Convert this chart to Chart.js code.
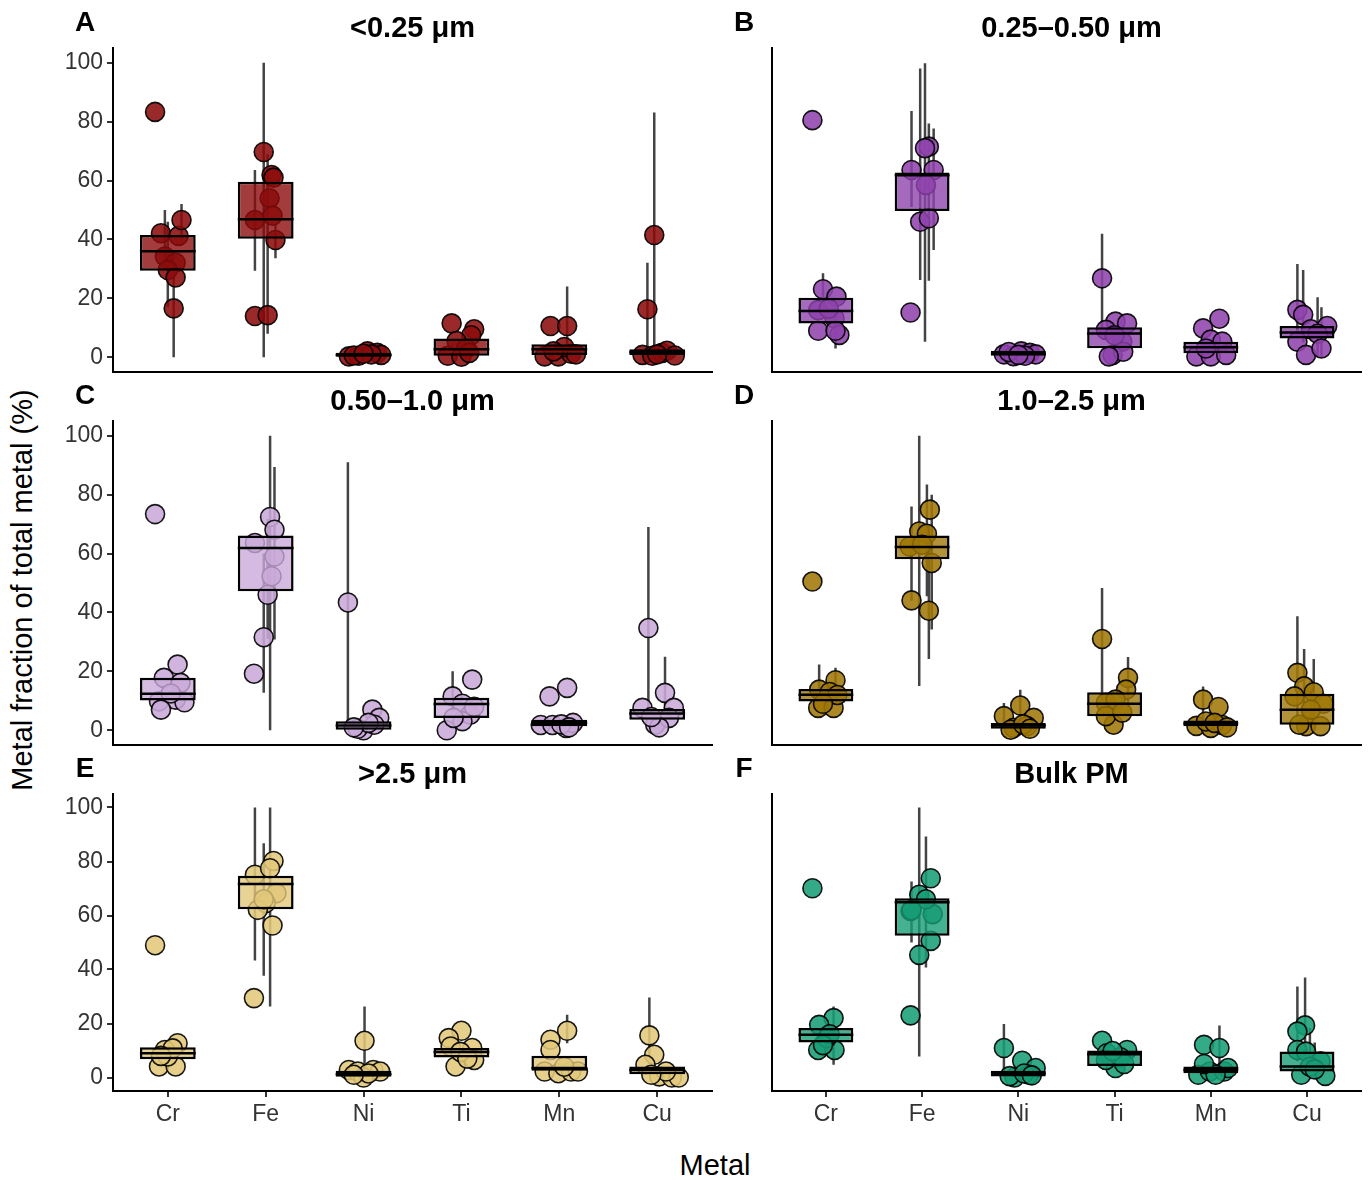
<!DOCTYPE html>
<html>
<head>
<meta charset="utf-8">
<script src="https://cdn.jsdelivr.net/npm/chart.js@4.4.0/dist/chart.umd.min.js"></script>
<style>
  body { margin: 0; background: #fff; width: 1372px; height: 1180px; position: relative; overflow: hidden;
         font-family: "Liberation Sans", Arial, Helvetica, sans-serif; }
  canvas { position: absolute; }
  .txt { position: absolute; transform: translate(-50%, -50%); white-space: nowrap; color: #000; }
  .letter { font-weight: bold; font-size: 28px; }
  .title { font-weight: bold; font-size: 29px; }
  .axis-title { font-size: 29px; }
</style>
</head>
<body>
<div class="txt axis-title" style="left:22px;top:590px;transform:translate(-50%,-50%) rotate(-90deg)">Metal fraction of total metal (%)</div>
<div class="txt axis-title" style="left:715px;top:1165px">Metal</div>
<script>
const metals = ["Cr", "Fe", "Ni", "Ti", "Mn", "Cu"];
const yTicks = [0, 20, 40, 60, 80, 100];
const letters = ["A", "B", "C", "D", "E", "F"];
const titles = ["<0.25 μm", "0.25–0.50 μm", "0.50–1.0 μm", "1.0–2.5 μm", ">2.5 μm", "Bulk PM"];

// box per metal: [q1, median, q3]
// points: [metal index, jitter, value, range low, range high]
const boxA = [[29.4, 36.0, 41.5], [40.2, 46.9, 59.6], [0.2, 0.8, 1.5], [0.5, 2.7, 6.4], [0.8, 2.7, 4.4], [0.8, 1.7, 2.7]];
const ptsA = [
  [0, -0.13, 83.3], [0, -0.07, 42.1], [0, 0.11, 41.2], [0, 0.14, 46.6, 40, 52], [0, -0.03, 34.2, 30, 50],
  [0, 0.08, 32.1], [0, 0.0, 29.6, 17, 46], [0, 0.08, 27.1], [0, 0.06, 16.6, 0, 28],
  [1, -0.02, 69.7, 0, 100], [1, 0.06, 61.9], [1, 0.08, 61.0], [1, 0.04, 54.0], [1, -0.11, 46.6, 29.4, 63.6],
  [1, 0.07, 48.1], [1, 0.10, 39.8, 33.6, 45], [1, -0.11, 14.0], [1, 0.02, 14.3, 8, 69],
  [2, -0.15, 0.3], [2, -0.05, 0.5], [2, 0.04, 2.0], [2, 0.14, 1.5], [2, 0.18, 0.8], [2, 0.08, 1.0], [2, -0.1, 0.6], [2, 0.0, 1.2],
  [3, -0.10, 11.5], [3, 0.13, 9.5], [3, 0.10, 7.5], [3, -0.05, 5.5], [3, 0.05, 3.0], [3, -0.14, 0.5], [3, 0.0, 0.2], [3, 0.08, 1.5],
  [4, -0.09, 10.6], [4, 0.08, 10.6, 3, 24], [4, -0.15, 0.3], [4, -0.01, 0.3], [4, 0.12, 1.2], [4, 0.05, 3.5], [4, -0.06, 2.0], [4, 0.17, 1.0],
  [5, -0.03, 41.5, 2.5, 83.1], [5, -0.10, 16.3, 2.5, 32.1], [5, -0.15, 0.8], [5, -0.05, 0.5], [5, 0.05, 1.5], [5, 0.10, 2.2], [5, 0.18, 0.6], [5, 0.0, 1.0]
];

const boxB = [[11.5, 15.7, 20.2], [49.7, 61.8, 62.7], [0.5, 1.2, 2.2], [3.1, 8.1, 10.2], [1.4, 3.4, 5.3], [6.4, 8.4, 10.6]];
const ptsB = [
  [0, -0.14, 80.5], [0, -0.03, 23.1, 15, 28.5], [0, 0.11, 20.6], [0, -0.08, 16.0], [0, 0.09, 13.2],
  [0, -0.08, 9.0], [0, 0.14, 7.6], [0, 0.03, 16.5], [0, 0.10, 9.0, 3, 14],
  [1, 0.07, 71.5, 26, 79.4], [1, 0.03, 71.0, 5.3, 99.8], [1, -0.11, 63.6, 51, 83.6], [1, 0.12, 63.6, 36.4, 77.7],
  [1, 0.04, 58.5], [1, -0.02, 46.0, 26.2, 98], [1, 0.07, 47.2], [1, -0.12, 15.2],
  [2, -0.15, 1.0], [2, -0.05, 0.4], [2, 0.03, 2.0], [2, 0.12, 1.5], [2, 0.18, 1.0], [2, 0.07, 0.5], [2, -0.1, 1.8], [2, 0.0, 0.8],
  [3, -0.13, 26.8, 10, 41.9], [3, 0.01, 12.1], [3, 0.13, 11.5], [3, -0.09, 9.3], [3, 0.08, 5.3], [3, -0.02, 0.8], [3, 0.09, 1.9], [3, -0.06, 0.3], [3, 0.0, 7.5],
  [4, 0.09, 13.1], [4, -0.08, 9.8], [4, 0.0, 6.0], [4, 0.12, 5.3], [4, -0.15, 0.3], [4, 0.0, 0.3], [4, 0.16, 0.8], [4, -0.05, 3.0],
  [5, -0.10, 16.1, 9, 31.7], [5, -0.04, 14.4, 5, 29.6], [5, 0.04, 9.5], [5, 0.21, 10.6], [5, -0.10, 5.3], [5, -0.01, 0.8], [5, 0.11, 8.0, 0.2, 20.4], [5, 0.15, 3.0, 0, 17]
];

const boxC = [[10.1, 12.4, 17.8], [47.2, 61.9, 66.1], [0.2, 1.6, 3.1], [4.2, 8.9, 11.0], [1.4, 2.5, 3.6], [3.6, 5.7, 7.2]];
const ptsC = [
  [0, -0.13, 73.4], [0, 0.10, 22.3], [0, -0.04, 17.8], [0, 0.13, 16.1], [0, -0.09, 9.8], [0, 0.08, 10.4], [0, 0.17, 9.5], [0, -0.07, 7.0], [0, 0.03, 12.5],
  [1, 0.045, 72.4, 0, 100], [1, 0.09, 68.1, 30.8, 89.4], [1, -0.11, 63.6], [1, 0.09, 59.0], [1, 0.06, 52.3],
  [1, 0.02, 46.0, 31, 71.7], [1, -0.02, 31.6, 12.7, 60], [1, -0.12, 19.2],
  [2, -0.16, 43.4, 3, 91], [2, 0.09, 7.0], [2, 0.16, 4.2], [2, 0.0, 0.0], [2, -0.06, 0.5], [2, 0.11, 1.9], [2, 0.05, 2.5], [2, -0.1, 1.0],
  [3, 0.11, 17.2], [3, -0.09, 11.5, 6, 20], [3, 0.01, 9.0], [3, 0.09, 5.3], [3, -0.15, 0.0], [3, 0.01, 3.1], [3, -0.08, 4.2], [3, 0.13, 8.0],
  [4, -0.10, 11.5], [4, 0.08, 14.4], [4, -0.19, 1.8], [4, -0.07, 1.8], [4, 0.07, 0.8], [4, 0.14, 2.5], [4, 0.02, 2.0], [4, 0.1, 1.0],
  [5, -0.09, 34.7, 5, 69], [5, 0.08, 12.7, 5, 25], [5, -0.15, 7.6], [5, -0.02, 1.9], [5, 0.17, 7.6], [5, 0.12, 4.2], [5, 0.02, 1.0], [5, -0.06, 4.5]
];

const boxD = [[9.8, 12.1, 14.0], [58.1, 62.2, 66.1], [0.5, 1.6, 2.5], [4.8, 9.0, 12.9], [1.4, 2.3, 3.3], [1.9, 7.0, 12.4]];
const ptsD = [
  [0, -0.14, 50.5], [0, -0.07, 13.8, 10, 22.3], [0, 0.10, 17.0, 12, 21.2], [0, -0.08, 7.6], [0, 0.08, 7.6], [0, 0.04, 13.0], [0, 0.12, 12.0], [0, -0.03, 9.0],
  [1, 0.08, 74.9], [1, -0.03, 67.5, 15, 100], [1, 0.05, 66.7, 45.5, 83.4], [1, -0.13, 62.4], [1, 0.10, 56.8, 34.2, 80],
  [1, -0.11, 44.1, 44, 76], [1, 0.07, 40.6, 24.2, 70], [1, 0.0, 63.0],
  [2, 0.02, 8.4, 3, 13.8], [2, -0.15, 4.8, 1, 9.3], [2, 0.16, 4.2], [2, -0.05, 0.8], [2, 0.09, 1.4], [2, -0.08, 0.2], [2, 0.05, 2.0], [2, 0.12, 0.5],
  [3, -0.13, 31.0, 10, 48.3], [3, 0.14, 17.8, 8, 24.9], [3, 0.12, 13.8], [3, -0.09, 9.3], [3, 0.01, 10.4], [3, -0.01, 1.9], [3, -0.09, 4.8], [3, 0.08, 6.0],
  [4, -0.08, 10.4, 4, 14.9], [4, 0.08, 7.9], [4, -0.15, 1.5], [4, 0.0, 0.8], [4, 0.12, 1.8], [4, -0.05, 3.0], [4, 0.04, 2.5], [4, 0.17, 1.0],
  [5, -0.10, 19.5, 5, 38.7], [5, -0.03, 14.9, 3, 27.6], [5, 0.07, 12.9, 4, 24.2], [5, -0.13, 11.5], [5, 0.17, 9.0],
  [5, -0.01, 1.4], [5, -0.08, 1.9], [5, 0.14, 1.4], [5, 0.04, 7.0, 1, 17]
];

const boxE = [[6.8, 9.0, 11.2], [62.3, 71.7, 74.7], [0.3, 1.2, 2.5], [7.4, 9.4, 10.9], [2.5, 3.5, 8.1], [1.2, 2.8, 4.1]];
const ptsE = [
  [0, -0.13, 49.0], [0, 0.10, 12.7], [0, -0.03, 10.2], [0, -0.09, 4.1], [0, 0.08, 4.1], [0, 0.0, 7.8], [0, 0.05, 10.8], [0, -0.07, 8.0],
  [1, 0.08, 80.2], [1, -0.11, 75.1, 43.3, 100], [1, 0.045, 77.5, 26.3, 100], [1, 0.11, 68.3], [1, 0.0, 64.6],
  [1, -0.08, 62.1], [1, 0.07, 56.3], [1, -0.12, 29.4], [1, -0.02, 66.0, 37.7, 86.8],
  [2, 0.01, 13.6, 3, 26.3], [2, -0.15, 2.8], [2, -0.06, 2.2], [2, 0.1, 2.8], [2, 0.17, 2.2], [2, 0.0, 0.0], [2, 0.05, 1.5], [2, -0.1, 1.0],
  [3, 0.0, 17.3], [3, -0.13, 14.6], [3, -0.11, 11.5], [3, 0.11, 10.9], [3, -0.06, 4.1], [3, 0.13, 6.5], [3, -0.01, 9.5], [3, 0.06, 7.0],
  [4, 0.08, 17.3, 12.7, 23.2], [4, -0.09, 14.0], [4, -0.09, 10.2], [4, -0.15, 2.2], [4, -0.01, 1.6], [4, 0.12, 2.2], [4, 0.19, 2.2], [4, 0.05, 4.0],
  [5, -0.08, 15.6, 5, 29.6], [5, -0.03, 8.4], [5, -0.12, 4.7], [5, 0.02, 0.4], [5, 0.15, 0.0], [5, 0.22, 0.0], [5, 0.09, 2.2], [5, -0.06, 1.0]
];

const boxF = [[13.0, 15.8, 18.3], [52.5, 64.9, 66.4], [0.4, 1.5, 2.5], [4.3, 8.6, 10.0], [1.6, 2.8, 4.1], [2.2, 4.1, 9.6]];
const ptsF = [
  [0, -0.14, 70.1], [0, 0.08, 22.0, 4.7, 26.3], [0, -0.07, 19.5], [0, -0.08, 10.2], [0, 0.09, 10.2], [0, 0.01, 14.6], [0, 0.04, 16.0], [0, -0.03, 12.0],
  [1, 0.09, 73.8], [1, -0.03, 67.7], [1, 0.11, 60.5], [1, -0.12, 61.7], [1, 0.09, 50.6],
  [1, -0.03, 45.4, 7.8, 100], [1, -0.12, 23.0], [1, 0.04, 66.0, 40.7, 89.3], [1, -0.11, 62.0, 50, 72.6],
  [2, -0.15, 10.9, 2, 19.8], [2, 0.04, 6.2], [2, 0.18, 3.5], [2, -0.04, 0.0], [2, 0.11, 1.0], [2, -0.09, 0.5], [2, 0.06, 1.5], [2, 0.14, 0.8],
  [3, -0.13, 13.6], [3, 0.13, 10.2], [3, -0.08, 9.0], [3, 0.01, 3.5], [3, -0.09, 6.5], [3, 0.06, 7.5], [3, 0.1, 5.0], [3, -0.02, 9.8],
  [4, -0.07, 12.1], [4, 0.09, 10.9, 5, 19.3], [4, -0.13, 1.0], [4, -0.01, 2.2], [4, 0.14, 2.2], [4, 0.18, 3.5], [4, 0.05, 1.0], [4, -0.07, 5.0],
  [5, -0.02, 19.3, 8, 37.0], [5, -0.10, 17.0, 6, 33.7], [5, -0.10, 10.2], [5, -0.01, 9.6], [5, 0.14, 6.0],
  [5, -0.06, 1.0], [5, 0.19, 0.6], [5, 0.03, 4.0, 1, 18.3], [5, 0.08, 3.0, 0, 13]
];

const boxes = [boxA, boxB, boxC, boxD, boxE, boxF];
const points = [ptsA, ptsB, ptsC, ptsD, ptsE, ptsF];
const colors = ["140,12,12", "143,68,173", "202,170,218", "160,120,8", "226,200,122", "24,158,118"];

// layout of the 2x3 grid (plot area edges in page pixels)
const cols = [{x: 0, w: 740, axisW: 113, padR: 28}, {x: 742, w: 630, axisW: 30, padR: 1}];
const rows = [{top: 48, bottom: 372}, {top: 421, bottom: 745}, {top: 794, bottom: 1091}];
const padTop = 20;
const boxFrac = 0.57;

Chart.defaults.font.family = '"Liberation Sans", Arial, Helvetica, sans-serif';

const rgba = (c, a) => `rgba(${c},${a})`;

const addText = (cls, text, x, y) => {
  const d = document.createElement("div");
  d.className = "txt " + cls;
  d.textContent = text;
  d.style.left = x + "px";
  d.style.top = y + "px";
  document.body.appendChild(d);
};

const makePanel = (i) => {
  const col = cols[i % 2];
  const row = rows[Math.floor(i / 2)];
  const last = row === rows[2];
  const leftCol = i % 2 === 0;
  const xH = last ? 45 : 20;
  const box = boxes[i];
  const pts = points[i];
  const c = colors[i];

  const canvas = document.createElement("canvas");
  canvas.width = col.w;
  canvas.height = row.bottom - row.top + padTop + xH;
  canvas.style.left = col.x + "px";
  canvas.style.top = (row.top - padTop) + "px";
  document.body.appendChild(canvas);

  const plotLeft = col.x + col.axisW;
  const plotRight = col.x + col.w - col.padR;
  addText("letter", letters[i], plotLeft - 28, row.top - 26);
  addText("title", titles[i], (plotLeft + plotRight) / 2, row.top - 21);

  const half = boxFrac / 2;
  const medData = [];
  box.forEach((b, k) => {
    medData.push({x: k - half, y: b[1]}, {x: k + half, y: b[1]}, {x: k, y: null});
  });
  const rangeData = [];
  pts.forEach(p => {
    if (p[3] == null) return;
    const x = p[0] + p[1];
    rangeData.push({x: x, y: p[3]}, {x: x, y: p[4]}, {x: x, y: null});
  });

  new Chart(canvas, {
    type: "scatter",
    data: {
      datasets: [
        {
          type: "bar",
          data: box.map((b, k) => ({x: k, y: [b[0], b[2]]})),
          backgroundColor: rgba(c, 0.8),
          borderColor: "#000",
          borderWidth: 2.5,
          borderSkipped: false,
          barPercentage: boxFrac,
          categoryPercentage: 1,
          grouped: false,
          order: 1
        },
        {
          type: "line",
          data: medData,
          borderColor: "#000",
          borderWidth: 2.5,
          borderCapStyle: "butt",
          pointRadius: 0,
          spanGaps: false,
          order: 0
        },
        {
          type: "scatter",
          data: pts.map(p => ({x: p[0] + p[1], y: p[2]})),
          backgroundColor: rgba(c, 0.88),
          borderColor: "rgba(0,0,0,0.9)",
          borderWidth: 1.6,
          pointRadius: 9.5,
          clip: false,
          order: 2
        },
        {
          type: "line",
          data: rangeData,
          borderColor: "rgba(35,35,35,0.85)",
          borderWidth: 2.5,
          pointRadius: 0,
          spanGaps: false,
          order: 3
        }
      ]
    },
    options: {
      responsive: false,
      animation: false,
      events: [],
      layout: {padding: {top: padTop, right: col.padR, left: 0, bottom: 0}},
      plugins: {legend: {display: false}, tooltip: {enabled: false}},
      scales: {
        x: {
          type: "linear",
          min: -0.56,
          max: 5.56,
          offset: false,
          afterBuildTicks: s => { s.ticks = metals.map((m, k) => ({value: k})); },
          afterFit: s => { s.height = xH; },
          grid: {display: last, offset: false, drawOnChartArea: false, drawTicks: true, tickLength: 6, color: "#333", lineWidth: 2},
          border: {display: true, color: "#000", width: 2},
          ticks: {display: last, callback: v => metals[v], color: "#333", font: {size: 23}, padding: 4, maxRotation: 0, autoSkip: false}
        },
        y: {
          type: "linear",
          min: -5,
          max: 105,
          afterBuildTicks: s => { s.ticks = yTicks.map(v => ({value: v})); },
          afterFit: s => { s.width = col.axisW; },
          grid: {display: leftCol, drawOnChartArea: false, drawTicks: true, tickLength: 6, color: "#333", lineWidth: 2},
          border: {display: true, color: "#000", width: 2},
          ticks: {display: leftCol, color: "#333", font: {size: 23}, padding: 4}
        }
      }
    }
  });
};

letters.forEach((l, i) => makePanel(i));
</script>
</body>
</html>
